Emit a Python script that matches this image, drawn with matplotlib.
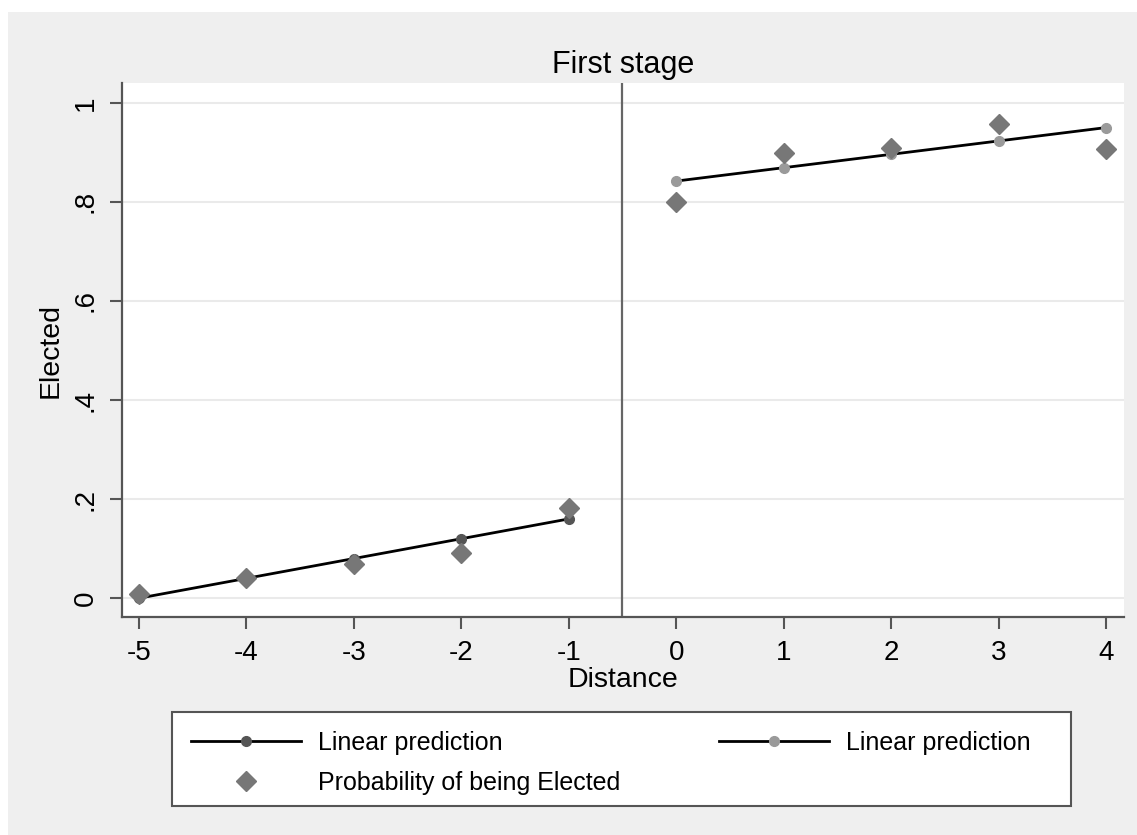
import matplotlib
matplotlib.use("Agg")
import matplotlib.pyplot as plt
from matplotlib.patches import Rectangle

plt.rcParams['font.family'] = ['Liberation Sans', 'DejaVu Sans']

# data
left_x = [-5, -4, -3, -2, -1]
left_pred = [0.0, 0.04, 0.08, 0.12, 0.16]
left_prob = [0.008, 0.040, 0.069, 0.092, 0.182]
right_x = [0, 1, 2, 3, 4]
right_pred = [0.842, 0.869, 0.896, 0.923, 0.950]
right_prob = [0.800, 0.899, 0.909, 0.958, 0.907]
yticks = [0, 0.2, 0.4, 0.6, 0.8, 1.0]
ytick_labels = ['0', '.2', '.4', '.6', '.8', '1']
xticks = [-5, -4, -3, -2, -1, 0, 1, 2, 3, 4]
cutoff = -0.5

W, H = 1137, 835
fig = plt.figure(figsize=(W / 100, H / 100), dpi=100)
fig.patch.set_facecolor('white')
fig.patches.append(Rectangle((8 / W, 0), 1, 1 - 12 / H, transform=fig.transFigure,
                             facecolor='#efefef', edgecolor='none', zorder=-10))

ax = fig.add_axes([122 / W, 1 - 617 / H, (1124 - 122) / W, (617 - 83) / H])
ax.set_facecolor('white')
ax.set_xlim(-5.158, 4.168)
ax.set_ylim(-0.038, 1.040)

for y in yticks:
    ax.axhline(y, color='#eaeaea', lw=1.5, zorder=0)
ax.axvline(cutoff, color='#666666', lw=1.6, zorder=1)

l1, = ax.plot(left_x, left_pred, color='black', lw=2, marker='o', ms=7,
              mfc='#555555', mec='#555555', zorder=3, label='Linear prediction')
l2, = ax.plot(right_x, right_pred, color='black', lw=2, marker='o', ms=7,
              mfc='#9a9a9a', mec='#9a9a9a', zorder=3, label='Linear prediction')
s1, = ax.plot(left_x + right_x, left_prob + right_prob, ls='none', marker='D', ms=10.5,
              mfc='#777777', mec='#777777', zorder=4, label='Probability of being Elected')

ax.set_xticks(xticks)
ax.set_xticklabels([str(v) for v in xticks])
ax.set_yticks(yticks)
ax.set_yticklabels(ytick_labels, rotation=90, va='center')
ax.tick_params(axis='both', direction='out', length=8.6, width=1.5, color='#555555',
               labelsize=20, labelcolor='black', pad=8)
for sp in ['top', 'right']:
    ax.spines[sp].set_visible(False)
for sp in ['left', 'bottom']:
    ax.spines[sp].set_color('#555555')
    ax.spines[sp].set_linewidth(1.6)

ax.set_title('First stage', fontsize=22, pad=7)
ax.set_xlabel('Distance', fontsize=20.5, labelpad=1)
ax.set_ylabel('Elected', fontsize=20.5, labelpad=7)

# legend box
fig.patches.append(Rectangle((172 / W, 1 - 806 / H), (1071 - 172) / W, (806 - 712) / H,
                             transform=fig.transFigure, facecolor='white',
                             edgecolor='#555555', lw=1.5, zorder=1))
leg = fig.legend(handles=[l1, s1, l2], ncol=2, loc='upper left',
                 bbox_to_anchor=(172 / W, 1 - 712 / H),
                 fontsize=18, frameon=False, handlelength=4.4,
                 borderpad=0.75, labelspacing=0.65, handletextpad=0.68,
                 columnspacing=3.96, borderaxespad=0)
leg.set_zorder(2)

fig.savefig('out.png', dpi=100, facecolor=fig.get_facecolor())
